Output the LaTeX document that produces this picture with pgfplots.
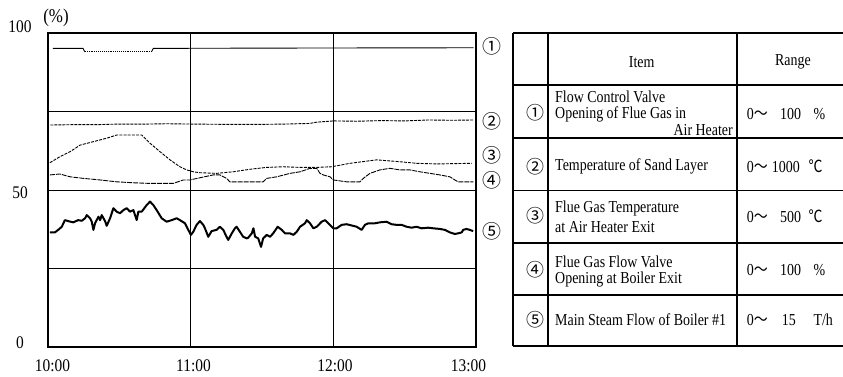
\documentclass[border=0pt]{standalone}
\usepackage{fontspec}
\setmainfont{Liberation Serif}
\newfontfamily\cjk{Noto Sans CJK JP}
\usepackage{pgfplots}
\pgfplotsset{compat=1.18}
\begin{document}
\begin{tikzpicture}[x=1bp,y=1bp]
\path[use as bounding box] (0,0) rectangle (843,376);
\begin{axis}[at={(48bp,29bp)}, anchor=south west, scale only axis,
  width=428bp, height=314bp,
  xmin=0, xmax=180, ymin=0, ymax=100,
  xtick={60,120}, ytick={25,50,75},
  xticklabels={}, yticklabels={},
  major tick length=0pt,
  grid=major, major grid style={black, line width=0.8bp},
  axis line style={line width=1.7bp}]
% series 1
\addplot[black, line width=0.9bp] coordinates {(2,95.1) (14.7,95.1) (15.5,94.0)};
\addplot[black, line width=0.9bp, densely dotted] coordinates {(15.5,94.0) (43.5,94.0)};
\addplot[black, line width=0.9bp] coordinates {(43.5,94.0) (44.3,95.1) (100,95.2) (179,95.3)};
% series 2
\addplot[black, line width=0.9bp, dash pattern=on 3bp off 1bp] coordinates {
(1,70.7) (10,70.8) (20,70.8) (30,71.0) (42,71.0) (50,71.1) (60,71.0) (75,70.9) (90,70.9) (100,71.0) (110,71.2) (113,71.6) (120,72.0) (130,71.9) (140,72.1) (150,72.0) (160,72.3) (170,72.2) (179,72.3)};
% series 3
\addplot[black, line width=0.9bp, dash pattern=on 3bp off 1.2bp] coordinates {
(0.8,58.7) (5.0,60.6) (9.3,62.2) (13.5,64.3) (19.1,65.4) (24.7,66.5) (28.9,67.5) (35.9,67.5) (39.4,67.5) (42.9,64.9) (47.1,62.2) (51.3,59.6) (55.5,57.4) (58.3,56.4) (61.1,55.8) (63.9,55.5) (70.9,55.3) (77.9,55.8) (84.9,56.6) (92.0,57.2) (99.0,57.4) (106.0,57.2) (113,57.2) (119.3,57.4) (127,58.5) (138.2,59.6) (148,59.0) (155,58.5) (163.5,58.3) (178.2,58.5)};
% series 4
\addplot[black, line width=0.9bp, dash pattern=on 5bp off 1bp] coordinates {
(0.8,54.8) (5.0,55.1) (9.3,54.2) (14.9,53.7) (21.9,53.2) (28.9,52.6) (35.9,52.3) (42.9,52.1) (52.7,52.1) (56.9,53.2) (59.7,53.2) (63.9,53.9) (69.5,54.8) (72.3,54.8) (75.1,53.7) (76.5,52.6) (80.7,52.6) (90.5,52.6) (92.0,53.7) (96.2,54.2) (101.8,55.3) (106,55.8) (110.2,56.9) (113,56.9) (114.4,55.3) (115.8,54.8) (118.6,54.2) (120,53.2) (125.6,52.6) (131.2,52.6) (132.6,53.7) (135.4,55.3) (139.6,56.4) (143.8,56.9) (148,56.4) (152.2,56.4) (156.4,55.8) (160.6,55.3) (164.8,54.8) (169,54.2) (171.1,53.2) (172.5,52.6) (178.9,52.6)};
% series 5
\addplot[black, line width=2bp, line join=round] coordinates {
(0.8,36.5) (2.9,36.5) (4.3,37.3) (5.8,38.3) (7.1,40.4) (8.5,40.1) (10.6,39.7) (12.7,40.4) (14.2,40.2) (15.6,41.0) (16.3,42.0) (17.7,41.0) (18.4,39.9) (19.1,37.3) (19.8,39.4) (21.2,41.5) (21.9,40.4) (22.6,42.0) (24.0,40.1) (24.7,38.6) (26.1,41.0) (27.5,44.2) (28.9,43.1) (30.3,42.6) (31.7,43.6) (33.1,44.2) (34.5,43.1) (35.9,43.6) (37.3,40.4) (38.0,43.1) (39.4,43.1) (41.5,45.2) (42.9,46.3) (44.3,45.2) (45.7,43.6) (47.8,41.0) (49.9,39.9) (52.0,40.4) (54.1,41.0) (55.5,40.4) (57.6,39.4) (59.0,37.3) (60.1,35.7) (61.1,36.7) (62.5,38.9) (63.9,40.1) (65.3,38.9) (66.0,37.8) (67.4,35.1) (68.8,36.9) (70.9,37.3) (72.3,38.3) (73.7,37.3) (75.1,35.1) (75.8,34.1) (77.3,36.2) (78.6,37.8) (79.3,38.3) (80.7,36.7) (82.1,35.1) (83.6,34.6) (84.2,34.8) (85.7,36.2) (86.4,37.8) (87.1,35.1) (88.4,34.6) (89.6,31.9) (90.5,34.6) (92.0,35.7) (93.4,35.1) (94.7,36.2) (96.6,38.3) (98.3,37.3) (99.7,36.2) (101.8,36.2) (103.2,35.7) (104.6,36.7) (106.0,38.3) (108.1,39.4) (108.8,40.4) (110.2,39.4) (111.6,37.8) (113.0,38.3) (115.1,39.9) (116.5,40.4) (117.9,39.4) (120.0,37.8) (121.4,37.8) (123.5,38.9) (125.6,39.1) (127.7,38.7) (129.8,38.3) (131.9,37.3) (133.3,38.9) (134.7,39.4) (137.5,39.4) (139.6,39.7) (142.4,39.9) (144.5,39.1) (146.6,38.9) (148.7,38.9) (150.8,38.3) (152.9,38.0) (155.0,38.3) (157.1,37.8) (159.9,38.0) (162.0,37.8) (164.8,37.6) (166.9,37.3) (169.0,36.5) (171.1,36.0) (172.5,36.2) (174.0,36.5) (174.6,37.3) (176.0,37.6) (177.4,37.3) (178.8,36.9)};
\end{axis}
% axis labels
\begin{scope}[every node/.style={font=\fontsize{15.5}{18}\selectfont, inner sep=0pt, yscale=1.15, transform shape}]
\node at (20,349) {100};
\node at (20,183) {50};
\node at (20,33) {0};
\node[font=\fontsize{17}{20}\selectfont] at (56,358.5) {(\%)};
\node at (52.5,10) {10:00};
\node at (193.5,10) {11:00};
\node at (335,10) {12:00};
\node at (468.5,10) {13:00};
\end{scope}
\begin{scope}[every node/.style={font=\cjk\fontsize{19}{20}\selectfont, inner sep=0pt}]
\node at (492,329.3) {①};
\node at (492,254.3) {②};
\node at (492,221) {③};
\node at (492,196) {④};
\node at (492,144.3) {⑤};
\end{scope}
% table
\draw[line width=1.2bp] (513,343) -- (843,343);
\draw[line width=1.2bp] (513,291) -- (843,291);
\draw[line width=1.2bp] (513,238) -- (843,238);
\draw[line width=1.2bp] (513,185.5) -- (843,185.5);
\draw[line width=1.2bp] (513,133) -- (843,133);
\draw[line width=1.2bp] (513,81) -- (843,81);
\draw[line width=1.2bp] (513,30) -- (843,30);
\draw[line width=1.2bp] (513,343) -- (513,30);
\draw[line width=1.2bp] (548,343) -- (548,30);
\draw[line width=1.2bp] (737,343) -- (737,30);
\begin{scope}[every node/.style={font=\fontsize{14}{16}\selectfont, inner sep=0pt, yscale=1.2, transform shape}]
\node at (641.7,314.3) {Item};
\node at (793,314.3) {Range};
\node[anchor=west] at (555,278.7) {Flow Control Valve};
\node[anchor=west] at (555,262) {Opening of Flue Gas in};
\node[anchor=east] at (733,246) {Air Heater};
\node[anchor=west] at (555,209.3) {Temperature of Sand Layer};
\node[anchor=west] at (555,167.7) {Flue Gas Temperature};
\node[anchor=west] at (555,148.7) {at Air Heater Exit};
\node[anchor=west] at (555,114.3) {Flue Gas Flow Valve};
\node[anchor=west] at (555,97) {Opening at Boiler Exit};
\node[anchor=west] at (555,56) {Main Steam Flow of Boiler \#1};
% ranges
\node[anchor=west] at (746.7,262) {0{\cjk 〜}};
\node[anchor=west] at (780,262) {100};
\node[anchor=west] at (813.3,262) {\%};
\node[anchor=west] at (746.7,209.3) {0{\cjk 〜}};
\node[anchor=west] at (771.7,209.3) {1000};
\node[anchor=west] at (808.3,209.3) {{\cjk ℃}};
\node[anchor=west] at (746.7,159.3) {0{\cjk 〜}};
\node[anchor=west] at (780,159.3) {500};
\node[anchor=west] at (808.3,159.3) {{\cjk ℃}};
\node[anchor=west] at (746.7,106) {0{\cjk 〜}};
\node[anchor=west] at (780,106) {100};
\node[anchor=west] at (813.3,106) {\%};
\node[anchor=west] at (746.7,56) {0{\cjk 〜}};
\node[anchor=west] at (781.7,56) {15};
\node[anchor=west] at (813.3,56) {T/h};
\end{scope}
\begin{scope}[every node/.style={font=\cjk\fontsize{18}{20}\selectfont, inner sep=0pt}]
\node at (535,263) {①};
\node at (535,209.3) {②};
\node at (535,160) {③};
\node at (535,106) {④};
\node at (535,56) {⑤};
\end{scope}
\end{tikzpicture}
\end{document}
